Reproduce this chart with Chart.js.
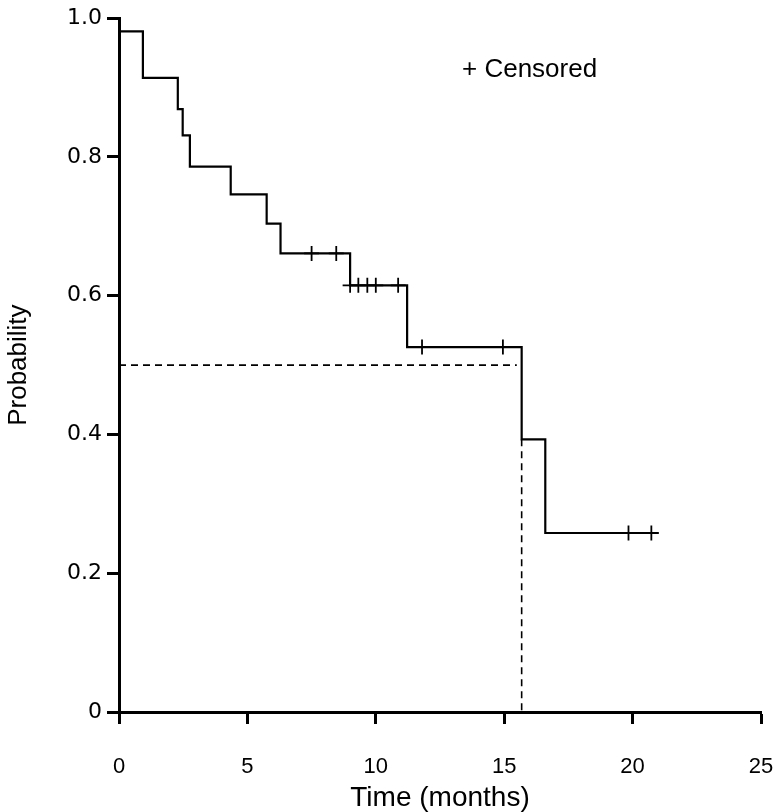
<!DOCTYPE html>
<html>
<head>
<meta charset="utf-8">
<script src="https://cdn.jsdelivr.net/npm/chart.js@4"></script>
<style>
  html, body { margin: 0; padding: 0; background: #fff; }
  #wrap { position: relative; width: 773px; height: 812px; }
  #note { position: absolute; left: 462px; top: 53px; font: 26px/30px "Liberation Sans", Arial, sans-serif; color: #000; white-space: pre; }
</style>
</head>
<body>
<div id="wrap">
  <canvas id="c" width="773" height="812"></canvas>
  <div id="note">+ Censored</div>
</div>
<script>
// Kaplan-Meier step curve: event times (months) and survival after each event
const stepTimes = [0, 0.93, 2.29, 2.48, 2.76, 4.35, 5.75, 6.29, 9.0, 11.22, 15.68, 16.6, 20.73];
const stepProb  = [0.981, 0.914, 0.869, 0.831, 0.786, 0.746, 0.704, 0.661, 0.615, 0.526, 0.393, 0.258, 0.258];

// Censored observations
const censorTimes = [7.5, 8.46, 9.0, 9.32, 9.67, 10.0, 10.87, 11.8, 14.95, 19.84, 20.73];
const censorProb  = [0.661, 0.661, 0.615, 0.615, 0.615, 0.615, 0.615, 0.526, 0.526, 0.258, 0.258];

// Median survival reference lines
const medianProb = 0.5;
const medianTime = 15.68;
const medianLineEnd = 15.49;
const medianDropProb = 0.393;

const xTicks = [0, 5, 10, 15, 20, 25];
const yTicks = [0, 0.2, 0.4, 0.6, 0.8, 1.0];

const font = "'Liberation Sans', Arial, sans-serif";
const yFont = "'DejaVu Sans', sans-serif";

new Chart(document.getElementById('c'), {
  type: 'scatter',
  data: {
    datasets: [
      {
        label: 'KM',
        data: stepTimes.map((t, i) => ({ x: t, y: stepProb[i] })),
        showLine: true,
        stepped: 'before',
        borderColor: '#000',
        borderWidth: 2.2,
        pointRadius: 0,
        fill: false
      },
      {
        label: 'Censored',
        data: censorTimes.map((t, i) => ({ x: t, y: censorProb[i] })),
        showLine: false,
        pointStyle: 'cross',
        pointRadius: 7.5,
        pointBorderWidth: 1.8,
        borderColor: '#000',
        backgroundColor: '#000'
      },
      {
        label: 'medianH',
        data: [{ x: 0, y: medianProb }, { x: medianLineEnd, y: medianProb }],
        showLine: true,
        borderColor: '#000',
        borderWidth: 1.6,
        borderDash: [7, 5],
        pointRadius: 0
      },
      {
        label: 'medianV',
        data: [{ x: medianTime, y: medianDropProb }, { x: medianTime, y: 0 }],
        showLine: true,
        borderColor: '#000',
        borderWidth: 1.6,
        borderDash: [7, 5],
        pointRadius: 0
      }
    ]
  },
  options: {
    responsive: false,
    animation: false,
    layout: { padding: { top: 15, right: 12, left: 0, bottom: 0 } },
    plugins: { legend: { display: false }, tooltip: { enabled: false } },
    scales: {
      x: {
        type: 'linear',
        min: 0, max: 25,
        afterBuildTicks: s => { s.ticks = xTicks.map(v => ({ value: v })); },
        afterFit: s => { s.height = 100; s.paddingLeft = 0; s.paddingRight = 0; },
        border: { display: true, color: '#000', width: 3 },
        grid: { drawOnChartArea: false, color: '#000', tickLength: 12, tickWidth: 3 },
        ticks: { color: '#000', font: { family: font, size: 22 }, padding: 30, maxRotation: 0 },
        title: { display: true, text: 'Time (months)', color: '#000', font: { family: font, size: 28, lineHeight: 1 }, padding: { top: 0, bottom: 0 } }
      },
      y: {
        type: 'linear',
        min: 0, max: 1,
        afterBuildTicks: s => { s.ticks = yTicks.map(v => ({ value: v })); },
        afterFit: s => { s.width = 119; },
        border: { display: true, color: '#000', width: 3 },
        grid: { drawOnChartArea: false, color: '#000', tickLength: 12, tickWidth: 3 },
        ticks: { color: '#000', font: { family: yFont, size: 22 }, padding: 5, callback: v => v === 0 ? '0' : v.toFixed(1) },
        title: { display: true, text: 'Probability', color: '#000', font: { family: font, size: 26, lineHeight: 1 }, padding: { top: 6, bottom: 0 } }
      }
    }
  }
});
</script>
</body>
</html>
